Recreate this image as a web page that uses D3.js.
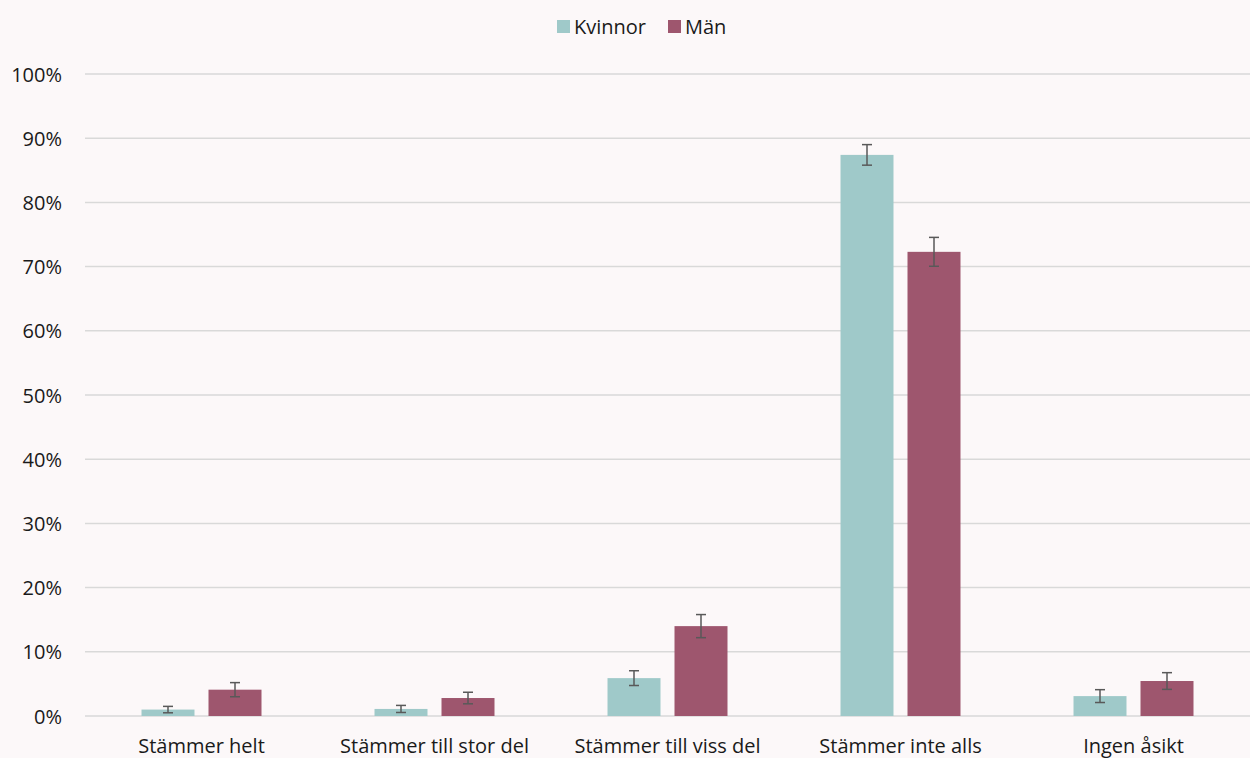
<!DOCTYPE html>
<html><head><meta charset="utf-8">
<script src="https://cdn.jsdelivr.net/npm/d3@7"></script>
<style>
html,body{margin:0;padding:0;background:#fcf8f9;}
text{font-family:"Open Sans","Noto Sans",sans-serif;fill:#1a1a1a;}
</style></head>
<body><svg id="c" width="1250" height="758"></svg>
<script>
const categories = ["Stämmer helt","Stämmer till stor del","Stämmer till viss del","Stämmer inte alls","Ingen åsikt"];
const seriesNames = ["Kvinnor","Män"];
const kvinnor = [1.0, 1.1, 5.9, 87.4, 3.1];
const man = [4.1, 2.8, 14.0, 72.3, 5.45];
const kvinnorErr = [0.5, 0.55, 1.15, 1.6, 1.0];
const manErr = [1.1, 0.9, 1.8, 2.25, 1.3];
const yTicks = [0,10,20,30,40,50,60,70,80,90,100];
const colors = ["#9fc9c9","#9e566e"];

(function(){
const FS = "20px";
const svg = d3.select("#c");
svg.append("rect").attr("width",1250).attr("height",758).attr("fill","#fcf8f9");
const pL=85, pR=1250, pT=74, pB=716;
const x = d3.scaleBand().domain(categories).range([pL,pR]).padding(0);
const y = d3.scaleLinear().domain([0,100]).range([pB,pT]);
const xs = d3.scaleBand().domain(seriesNames).range([0,120]).paddingInner(14/67);

svg.append("g").selectAll("line").data(yTicks).join("line")
  .attr("x1",pL).attr("x2",pR).attr("y1",d=>y(d)).attr("y2",d=>y(d))
  .attr("stroke","#d9d9d9").attr("stroke-width",1.5);

const yAxis = d3.axisLeft(y).tickValues(yTicks).tickFormat(d=>d+"%").tickSize(0).tickPadding(0);
const ya = svg.append("g").attr("transform",`translate(62,0)`).call(yAxis);
ya.select(".domain").remove();
ya.selectAll("text").style("font-size",FS).style("font-family","'Open Sans','Noto Sans',sans-serif").attr("fill","#1a1a1a").attr("dy","0.35em");

const xAxis = d3.axisBottom(x).tickSize(0).tickPadding(0);
const xa = svg.append("g").attr("transform",`translate(0,${pB+23})`).call(xAxis);
xa.select(".domain").remove();
xa.selectAll("text").style("font-size",FS).style("font-family","'Open Sans','Noto Sans',sans-serif").attr("fill","#1a1a1a");

const data = categories.map((c,i)=>({c, vals:[
  {s:"Kvinnor", v:kvinnor[i], e:kvinnorErr[i], col:colors[0]},
  {s:"Män", v:man[i], e:manErr[i], col:colors[1]}]}));

const g = svg.append("g").selectAll("g").data(data).join("g")
  .attr("transform",d=>`translate(${x(d.c)+x.bandwidth()/2-60},0)`);
g.selectAll("rect").data(d=>d.vals).join("rect")
  .attr("x",d=>xs(d.s)).attr("width",xs.bandwidth())
  .attr("y",d=>y(d.v)).attr("height",d=>y(0)-y(d.v)).attr("fill",d=>d.col);
const eb = g.selectAll("g.eb").data(d=>d.vals).join("g").attr("class","eb")
  .attr("transform",d=>`translate(${xs(d.s)+xs.bandwidth()/2},0)`);
eb.append("line").attr("y1",d=>y(d.v-d.e)).attr("y2",d=>y(d.v+d.e)).attr("stroke","#595959").attr("stroke-width",1.5);
eb.append("line").attr("x1",-5).attr("x2",5).attr("y1",d=>y(d.v-d.e)).attr("y2",d=>y(d.v-d.e)).attr("stroke","#595959").attr("stroke-width",1.5);
eb.append("line").attr("x1",-5).attr("x2",5).attr("y1",d=>y(d.v+d.e)).attr("y2",d=>y(d.v+d.e)).attr("stroke","#595959").attr("stroke-width",1.5);

const lg = svg.append("g");
const legX = [557, 668];
seriesNames.forEach((s,i)=>{
  lg.append("rect").attr("x",legX[i]).attr("y",20).attr("width",13).attr("height",13).attr("fill",colors[i]);
  lg.append("text").attr("x",legX[i]+17).attr("y",27).attr("dy","0.35em").style("font-size",FS).text(s);
});
})();
</script></body></html>
